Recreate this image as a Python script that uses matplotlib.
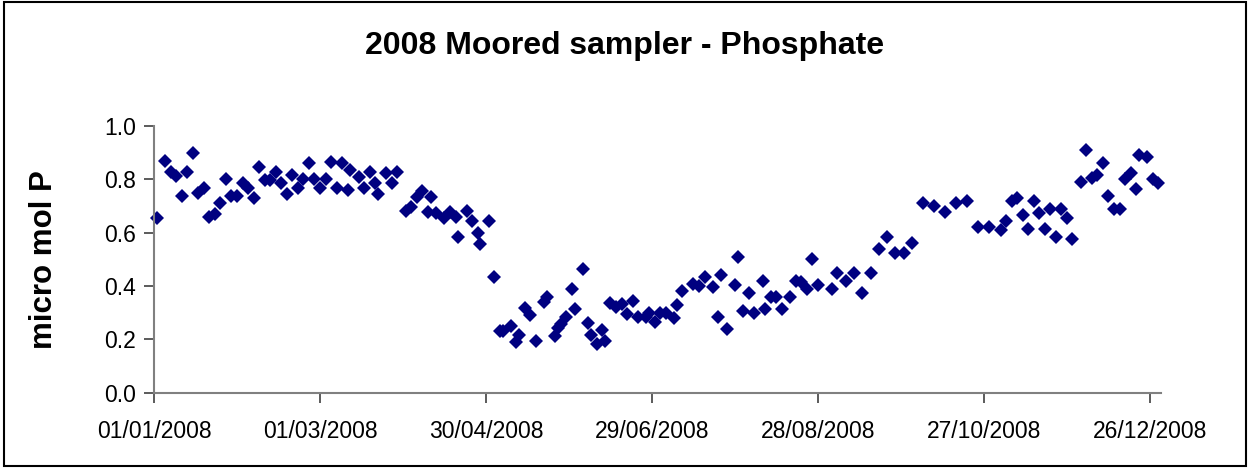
import numpy as np
import pandas as pd
import matplotlib
matplotlib.use('Agg')
import matplotlib.pyplot as plt
from matplotlib.patches import Rectangle

# sample day (days after 01/01/2008) and phosphate (micro mol P)
days = [1, 4, 6, 8, 10, 12, 14, 16, 18, 20, 22, 24, 26, 28, 30, 32, 34, 36, 38, 40,
        42, 44, 46, 48, 50, 52, 54, 56, 58, 60, 62, 64, 66, 68, 70, 71, 74, 76, 78, 80,
        81, 84, 86, 88, 91, 93, 95, 97, 99, 100, 102, 105, 107, 109, 110, 113, 115, 117, 118, 121,
        123, 125, 126, 129, 131, 132, 134, 136, 138, 141, 142, 145, 146, 147, 149, 151, 152, 155, 157, 158,
        160, 162, 163, 165, 167, 169, 171, 173, 175, 178, 179, 181, 183, 185, 188, 189, 191, 195, 197, 199,
        202, 204, 205, 207, 210, 211, 213, 215, 217, 220, 221, 223, 225, 227, 230, 232, 234, 236, 238, 240,
        245, 247, 250, 253, 256, 259, 262, 265, 268, 271, 274, 278, 282, 286, 290, 294, 298, 302, 306, 308,
        310, 312, 314, 316, 318, 320, 322, 324, 326, 328, 330, 332, 335, 337, 339, 341, 343, 345, 347, 349,
        351, 353, 355, 356, 359, 361, 363]
phosphate = [0.655, 0.868, 0.828, 0.812, 0.738, 0.828, 0.897, 0.747, 0.766, 0.659,
             0.669, 0.709, 0.799, 0.737, 0.737, 0.787, 0.768, 0.730, 0.844, 0.797,
             0.797, 0.828, 0.787, 0.744, 0.815, 0.766, 0.799, 0.859, 0.799, 0.766,
             0.799, 0.865, 0.766, 0.859, 0.759, 0.834, 0.809, 0.768, 0.828, 0.784,
             0.744, 0.822, 0.784, 0.828, 0.681, 0.694, 0.732, 0.755, 0.678, 0.732,
             0.672, 0.653, 0.678, 0.659, 0.582, 0.682, 0.643, 0.599, 0.557, 0.643,
             0.432, 0.232, 0.232, 0.250, 0.191, 0.216, 0.316, 0.291, 0.195, 0.341,
             0.360, 0.212, 0.241, 0.257, 0.285, 0.387, 0.312, 0.462, 0.260, 0.216,
             0.181, 0.235, 0.195, 0.337, 0.320, 0.332, 0.294, 0.343, 0.285, 0.285,
             0.300, 0.266, 0.297, 0.300, 0.281, 0.328, 0.381, 0.406, 0.400, 0.434,
             0.395, 0.282, 0.441, 0.239, 0.403, 0.508, 0.306, 0.375, 0.298, 0.419,
             0.313, 0.360, 0.360, 0.313, 0.358, 0.419, 0.416, 0.387, 0.500, 0.403,
             0.387, 0.449, 0.418, 0.450, 0.375, 0.447, 0.537, 0.583, 0.522, 0.522,
             0.560, 0.709, 0.701, 0.678, 0.709, 0.717, 0.619, 0.619, 0.609, 0.643,
             0.718, 0.729, 0.664, 0.612, 0.717, 0.672, 0.612, 0.687, 0.582, 0.687,
             0.655, 0.575, 0.790, 0.910, 0.806, 0.815, 0.859, 0.738, 0.687, 0.687,
             0.799, 0.822, 0.762, 0.890, 0.881, 0.799, 0.784]

tick_labels = ['01/01/2008', '01/03/2008', '30/04/2008', '29/06/2008',
               '28/08/2008', '27/10/2008', '26/12/2008']

start = pd.Timestamp('2008-01-01')
dates = start + pd.to_timedelta(days, unit='D')
tick_dates = pd.to_datetime(tick_labels, format='%d/%m/%Y')

plt.rcParams['font.family'] = ['Liberation Sans', 'DejaVu Sans']

fig = plt.figure(figsize=(12.5, 4.68), dpi=100)
ax = fig.add_axes([0.1232, 0.1609, 0.8056, 0.5705])

ax.plot(dates, phosphate, linestyle='none', marker='D', markersize=6.8,
        markerfacecolor='#000080', markeredgewidth=0, clip_on=False)

ax.set_xlim(start, start + pd.Timedelta(days=364))
ax.set_ylim(0, 1.0)
ax.set_xticks(tick_dates)
ax.set_xticklabels(tick_labels)
ax.set_yticks(np.arange(0, 1.01, 0.2))
ax.yaxis.set_major_formatter(plt.FormatStrFormatter('%.1f'))

for side in ['top', 'right']:
    ax.spines[side].set_visible(False)
for side in ['left', 'bottom']:
    ax.spines[side].set_color('#808080')
    ax.spines[side].set_linewidth(1.5)

ax.tick_params(axis='both', direction='out', length=7, width=1.2,
               color='#404040', labelsize=16.5)
ax.tick_params(axis='x', pad=13)
ax.tick_params(axis='y', pad=6)

ax.set_ylabel('micro mol P', fontsize=22.5, fontweight='bold')
ax.yaxis.set_label_coords(-0.094, 0.5)
fig.text(0.5, 0.902, '2008 Moored sampler - Phosphate', ha='center', va='center',
         fontsize=23, fontweight='bold')

# chart border
fig.patches.append(Rectangle((0.003, 0.005), 0.994, 0.99, transform=fig.transFigure,
                             fill=False, edgecolor='black', linewidth=1.5))

fig.savefig('out.png', dpi=100)
